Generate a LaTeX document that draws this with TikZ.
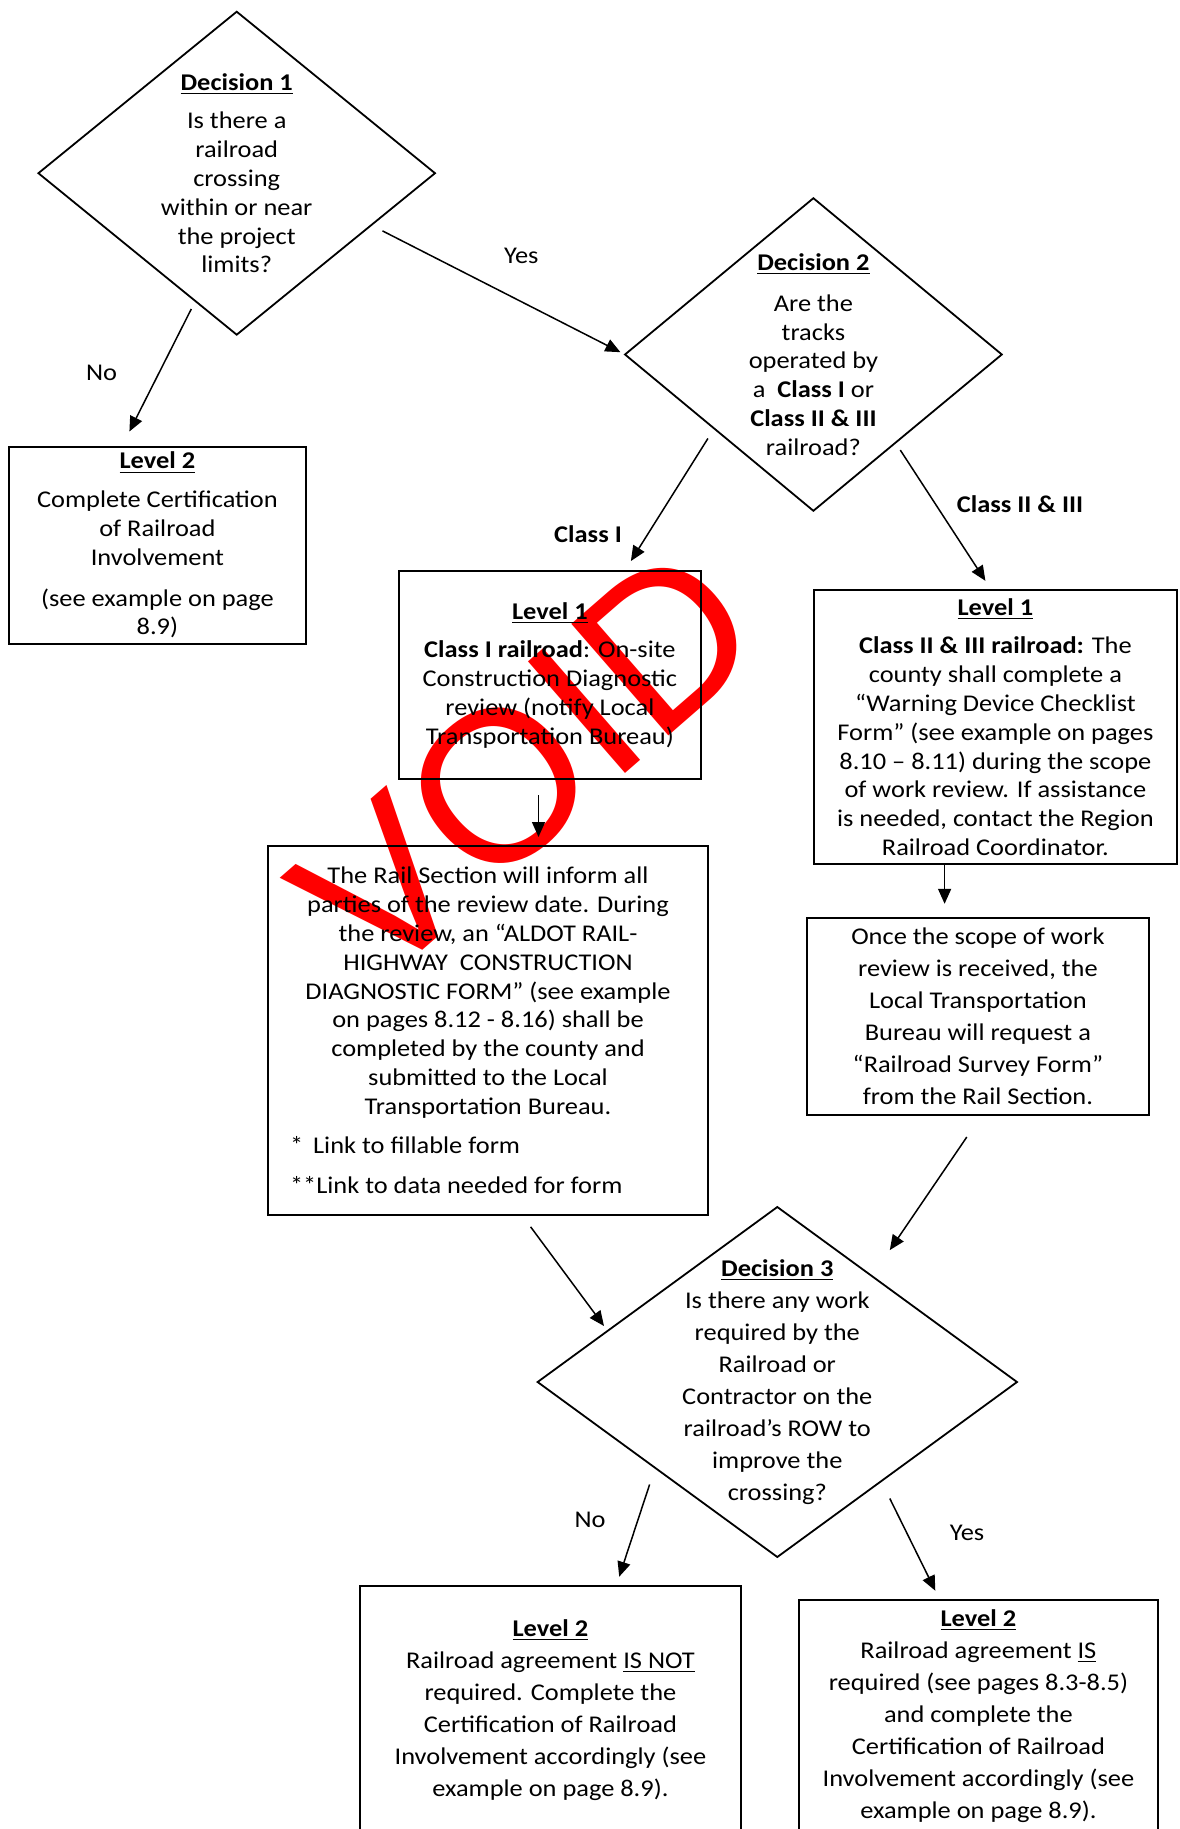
\documentclass[tikz,border=0pt]{standalone}
\usepackage{fontspec}
\setmainfont{Carlito}[FakeStretch=1.1]
\newfontfamily\voidfont{Liberation Sans}
\usetikzlibrary{shapes.geometric,arrows.meta}
\begin{document}
\begin{tikzpicture}[x=0.5pt,y=-0.5pt,
  every node/.style={font=\fontsize{12pt}{14.4pt}\selectfont, inner sep=0pt, outer sep=0pt},
  box/.style={draw, line width=1pt, align=center},
  dia/.style={draw, diamond, line width=0.9pt},
  txt/.style={align=center},
  widetxt/.style={align=center, font=\fontsize{12pt}{16pt}\selectfont},
  arr/.style={line width=0.75pt, -{Triangle[length=7.5pt,width=6.5pt]}},
  bl/.style={font=\fontsize{12pt}{14.4pt}\selectfont\bfseries},
  voidstamp/.style={text=red, font=\voidfont\fontsize{107.5pt}{107.5pt}\selectfont, rotate=41}
]
\useasboundingbox (0,0) rectangle (1179,1829);
\clip (0,0) rectangle (1179,1829);

% VOID stamp (drawn first so text stays on top)
\node[voidstamp] (void) at (526,762) {VOID};

% Decision diamonds
\node[dia, minimum width=198.3pt, minimum height=161.5pt] (d1) at (236.7,173.2) {};
\node[txt] (d1t) at (d1.center) {\underline{\textbf{Decision 1}}\\[5pt] Is there a\\ railroad\\ crossing\\ within or near\\ the project\\ limits?};

\node[dia, minimum width=188.4pt, minimum height=156.3pt] (d2) at (813.4,354.5) {};
\node[txt] (d2t) at (d2.center) {\underline{\textbf{Decision 2}}\\[6pt] Are the\\ tracks\\ operated by\\ a~~\textbf{Class I} or\\ \textbf{Class II \& III}\\ railroad?};

\node[dia, minimum width=239.7pt, minimum height=175pt] (d3) at (777.3,1382) {};
\node[widetxt] (d3t) at (d3.center) {\underline{\textbf{Decision 3}}\\ Is there any work\\ required by the\\ Railroad or\\ Contractor on the\\ railroad’s ROW to\\ improve the\\ crossing?};

% Boxes
\node[box, minimum width=148.1pt, minimum height=98.6pt] (l2a) at (157.4,545.2)
  {\underline{\textbf{Level 2}}\\[5pt] Complete Certification\\ of Railroad\\ Involvement\\[6pt] (see example on page\\ 8.9)};

\node[box, minimum width=151pt, minimum height=103.8pt] (l1a) at (549.9,675.2)
  {\underline{\textbf{Level 1}}\\[5pt] \textbf{Class I railroad}: On-site\\ Construction Diagnostic\\ review (notify Local\\ Transportation Bureau)};

\node[box, minimum width=219.9pt, minimum height=184.9pt] (big) at (488,1030.4)
  {The Rail Section will inform all\\ parties of the review date. During\\ the review, an “ALDOT RAIL-\\ HIGHWAY~~CONSTRUCTION\\ DIAGNOSTIC FORM” (see example\\ on pages 8.12 - 8.16) shall be\\ completed by the county and\\ submitted to the Local\\ Transportation Bureau.\\[5.4pt] \makebox[198pt][l]{*\hspace{5pt}Link to fillable form}\\[5.4pt] \makebox[198pt][l]{**Link to data needed for form}};

\node[box, minimum width=181.4pt, minimum height=137pt] (l1b) at (995.4,727)
  {\underline{\textbf{Level 1}}\\[5pt] \textbf{Class II \& III railroad:} The\\ county shall complete a\\ “Warning Device Checklist\\ Form” (see example on pages\\ 8.10 – 8.11) during the scope\\ of work review. If assistance\\ is needed, contact the Region\\ Railroad Coordinator.};

\node[box, widetxt, minimum width=170.9pt, minimum height=98.6pt] (once) at (977.9,1016.4)
  {Once the scope of work\\ review is received, the\\ Local Transportation\\ Bureau will request a\\ “Railroad Survey Form”\\ from the Rail Section.};

\node[box, widetxt, minimum width=190.1pt, minimum height=124pt] (l2b) at (550.4,1710)
  {\underline{\textbf{Level 2}}\\ Railroad agreement \underline{IS NOT}\\ required. Complete the\\ Certification of Railroad\\ Involvement accordingly (see\\ example on page 8.9).};

\node[box, widetxt, minimum width=179.6pt, minimum height=116.5pt] (l2c) at (978.4,1716.5)
  {\underline{\textbf{Level 2}}\\ Railroad agreement \underline{IS}\\ required (see pages 8.3-8.5)\\ and complete the\\ Certification of Railroad\\ Involvement accordingly (see\\ example on page 8.9).};

% Labels
\node (yes1) at (521.3,255.4) {Yes};
\node (no1) at (101.5,373.2) {No};
\node[bl] (c1lbl) at (588,534) {Class I};
\node[bl] (c2lbl) at (1020,504) {Class II \& III};
\node (no3) at (590,1519.5) {No};
\node (yes3) at (967,1532.4) {Yes};

% Arrow end points
\coordinate (a1s) at (382.5,230.9);  \coordinate (a1e) at (620.4,352.2);
\coordinate (a2s) at (191.3,309);    \coordinate (a2e) at (129.4,431.5);
\coordinate (a3s) at (707.9,438.5);  \coordinate (a3e) at (630.9,561);
\coordinate (a4s) at (900.3,450.1);  \coordinate (a4e) at (985.4,580.8);
\coordinate (a5s) at (538.5,795);    \coordinate (a5e) at (538.5,837);
\coordinate (a6e) at (944.6,903.8);
\coordinate (a7s) at (966.8,1137);   \coordinate (a7e) at (889.8,1250.1);
\coordinate (a8s) at (530.6,1226.8); \coordinate (a8e) at (604,1326);
\coordinate (a9s) at (649.6,1484.5); \coordinate (a9e) at (619.2,1576.7);
\coordinate (a10s) at (889.8,1498.5); \coordinate (a10e) at (935.3,1590.7);

\draw[arr] (a1s) -- (a1e);
\draw[arr] (a2s) -- (a2e);
\draw[arr] (a3s) -- (a3e);
\draw[arr] (a4s) -- (a4e);
\draw[arr] (a5s) -- (a5e);
\draw[arr] (l1b.south -| a6e) -- (a6e);
\draw[arr] (a7s) -- (a7e);
\draw[arr] (a8s) -- (a8e);
\draw[arr] (a9s) -- (a9e);
\draw[arr] (a10s) -- (a10e);
\end{tikzpicture}
\end{document}
